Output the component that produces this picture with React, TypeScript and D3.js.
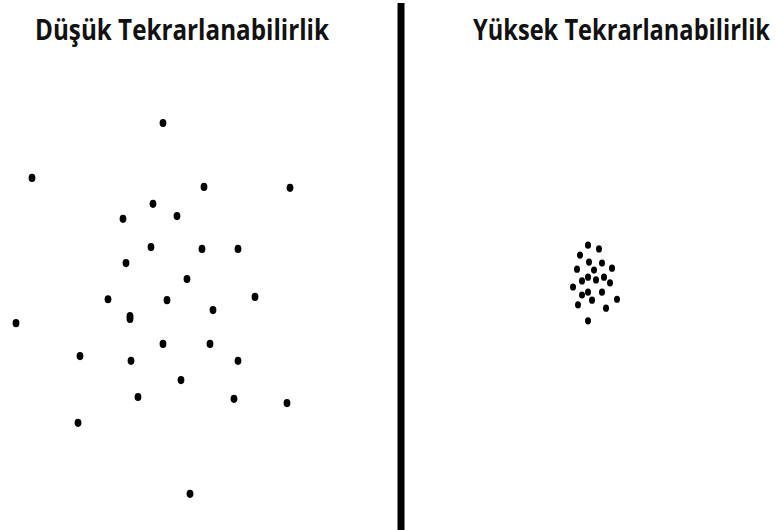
import { useEffect, useRef } from "react";
import * as d3 from "d3";

// Panel titles
const titles = ["Düşük Tekrarlanabilirlik", "Yüksek Tekrarlanabilirlik"];

// Left panel (low repeatability), 0-100 units
const lowX = [40.75, 8, 51, 72.5, 38.25, 30.75, 44.25, 37.75, 50.5, 59.5, 31.5, 46.75, 27, 41.75, 63.75, 4, 32.5, 32.5, 53.25, 40.75, 52.5, 20, 32.75, 59.5, 45.25, 34.5, 58.5, 71.75, 19.5, 47.5];
const lowY = [13.4, 25.1, 27.0, 27.2, 30.6, 33.8, 33.2, 39.8, 40.2, 40.2, 43.2, 46.6, 50.9, 51.1, 50.4, 56.0, 54.5, 55.1, 53.2, 60.4, 60.4, 63.0, 64.0, 64.0, 68.1, 71.7, 72.1, 73.0, 77.2, 92.3];

// Right panel (high repeatability)
const highX = [47, 49.75, 45, 47.25, 50.5, 44.25, 53, 48.5, 47, 45.5, 49, 51, 52.5, 43.25, 50.5, 47, 45.5, 48, 54.25, 44.5, 51.5, 47];
const highY = [39.4, 40.2, 41.5, 43.0, 43.2, 44.5, 44.3, 44.7, 46.2, 47.0, 46.8, 46.2, 47.4, 48.3, 49.4, 49.4, 50.0, 51.1, 50.9, 52.1, 52.8, 55.5];

const width = 782;
const height = 530;

export default function App() {
    const ref = useRef<SVGSVGElement>(null);

    useEffect(() => {
        const svg = d3.select(ref.current);
        svg.selectAll("*").remove();

        const y = d3.scaleLinear().domain([0, 100]).range([60, 530]);
        const xLeft = d3.scaleLinear().domain([0, 100]).range([0, 400]);
        const xRight = d3.scaleLinear().domain([0, 100]).range([400, 800]);

        const panels = [
            { x: xLeft, xs: lowX, ys: lowY, rx: 3.4, ry: 4.1, tx: 35, tl: 294 },
            { x: xRight, xs: highX, ys: highY, rx: 3, ry: 3.6, tx: 473, tl: 297 },
        ];

        panels.forEach((p, i) => {
            const g = svg.append("g");
            g.selectAll("ellipse")
                .data(d3.range(p.xs.length))
                .join("ellipse")
                .attr("cx", (j) => p.x(p.xs[j]))
                .attr("cy", (j) => y(p.ys[j]))
                .attr("rx", p.rx)
                .attr("ry", p.ry)
                .attr("fill", "#000");

            g.append("text")
                .attr("x", p.tx)
                .attr("y", 40)
                .attr("font-family", "'Open Sans', sans-serif")
                .attr("font-weight", "bold")
                .attr("font-size", 29)
                .attr("fill", "#111")
                .attr("textLength", p.tl)
                .attr("lengthAdjust", "spacingAndGlyphs")
                .text(titles[i]);
        });

        // divider
        svg.append("line")
            .attr("x1", 401)
            .attr("x2", 401)
            .attr("y1", 3)
            .attr("y2", height)
            .attr("stroke", "#000")
            .attr("stroke-width", 7);
    }, []);

    return (
        <svg
            ref={ref}
            width={width}
            height={height}
            style={{ position: "absolute", left: 0, top: 0, background: "#fff" }}
        />
    );
}
